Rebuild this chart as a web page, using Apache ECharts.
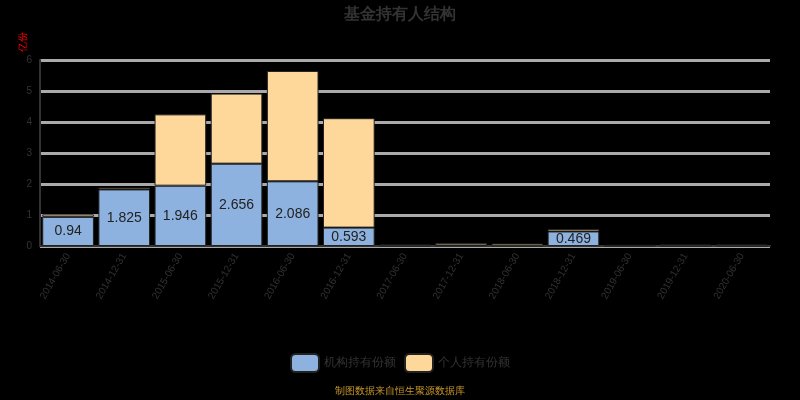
<!DOCTYPE html>
<html><head><meta charset="utf-8">
<script src="https://cdn.jsdelivr.net/npm/echarts@6/dist/echarts.min.js"></script>
<style>html,body{margin:0;background:#000}#c{width:800px;height:400px}</style>
</head><body><div id="c"></div>
<script>
var categories = ['2014-06-30','2014-12-31','2015-06-30','2015-12-31','2016-06-30','2016-12-31','2017-06-30','2017-12-31','2018-06-30','2018-12-31','2019-06-30','2019-12-31','2020-06-30'];
var institution = [0.94, 1.825, 1.946, 2.656, 2.086, 0.593, 0.01, 0.02, 0.01, 0.469, 0.01, 0.01, 0.01];
var individual = [0.08, 0.06, 2.30, 2.26, 3.56, 3.53, 0.04, 0.08, 0.07, 0.08, 0.02, 0.04, 0.04];

var chart = echarts.init(document.getElementById('c'));
chart.setOption({
    backgroundColor: '#000',
    title: {text: '基金持有人结构', left: 'center', top: 2, textStyle: {color: '#333', fontSize: 16, fontWeight: 'bold'}},
    grid: {left: 40, right: 30, top: 60, bottom: 154},
    legend: {bottom: 22, itemWidth: 28, itemHeight: 18, textStyle: {color: '#333', fontSize: 12},
        data: ['机构持有份额', '个人持有份额']},
    graphic: [{type: 'text', left: 'center', bottom: 4, style: {text: '制图数据来自恒生聚源数据库', fill: '#c8962a', fontSize: 10}}],
    xAxis: {type: 'category', data: categories,
        axisLine: {lineStyle: {color: '#333', width: 2}},
        axisTick: {lineStyle: {color: '#333', width: 2}},
        axisLabel: {color: '#333', rotate: 60, fontSize: 10, interval: 0}},
    yAxis: {type: 'value', min: 0, max: 6, interval: 1, name: '亿份',
        nameLocation: 'end', nameRotate: 90, nameGap: 8,
        nameTextStyle: {color: 'red', fontSize: 10, align: 'right', verticalAlign: 'bottom', padding: [0, 0, 12, 0]},
        axisLine: {show: true, lineStyle: {color: '#333', width: 2}},
        axisLabel: {color: '#333', fontSize: 10},
        splitLine: {lineStyle: {color: '#aaa', width: 3}}},
    series: [
        {name: '机构持有份额', type: 'bar', stack: 'a', barWidth: '92%', data: institution,
            itemStyle: {color: '#8eb2df', borderColor: '#222', borderWidth: 1},
            label: {show: true, position: 'inside', color: '#222', fontSize: 14,
                formatter: function (p) { return p.value > 0.3 ? p.value : ''; }}},
        {name: '个人持有份额', type: 'bar', stack: 'a', data: individual,
            itemStyle: {color: '#fdd89a', borderColor: '#222', borderWidth: 1}}
    ]
});
</script></body></html>
